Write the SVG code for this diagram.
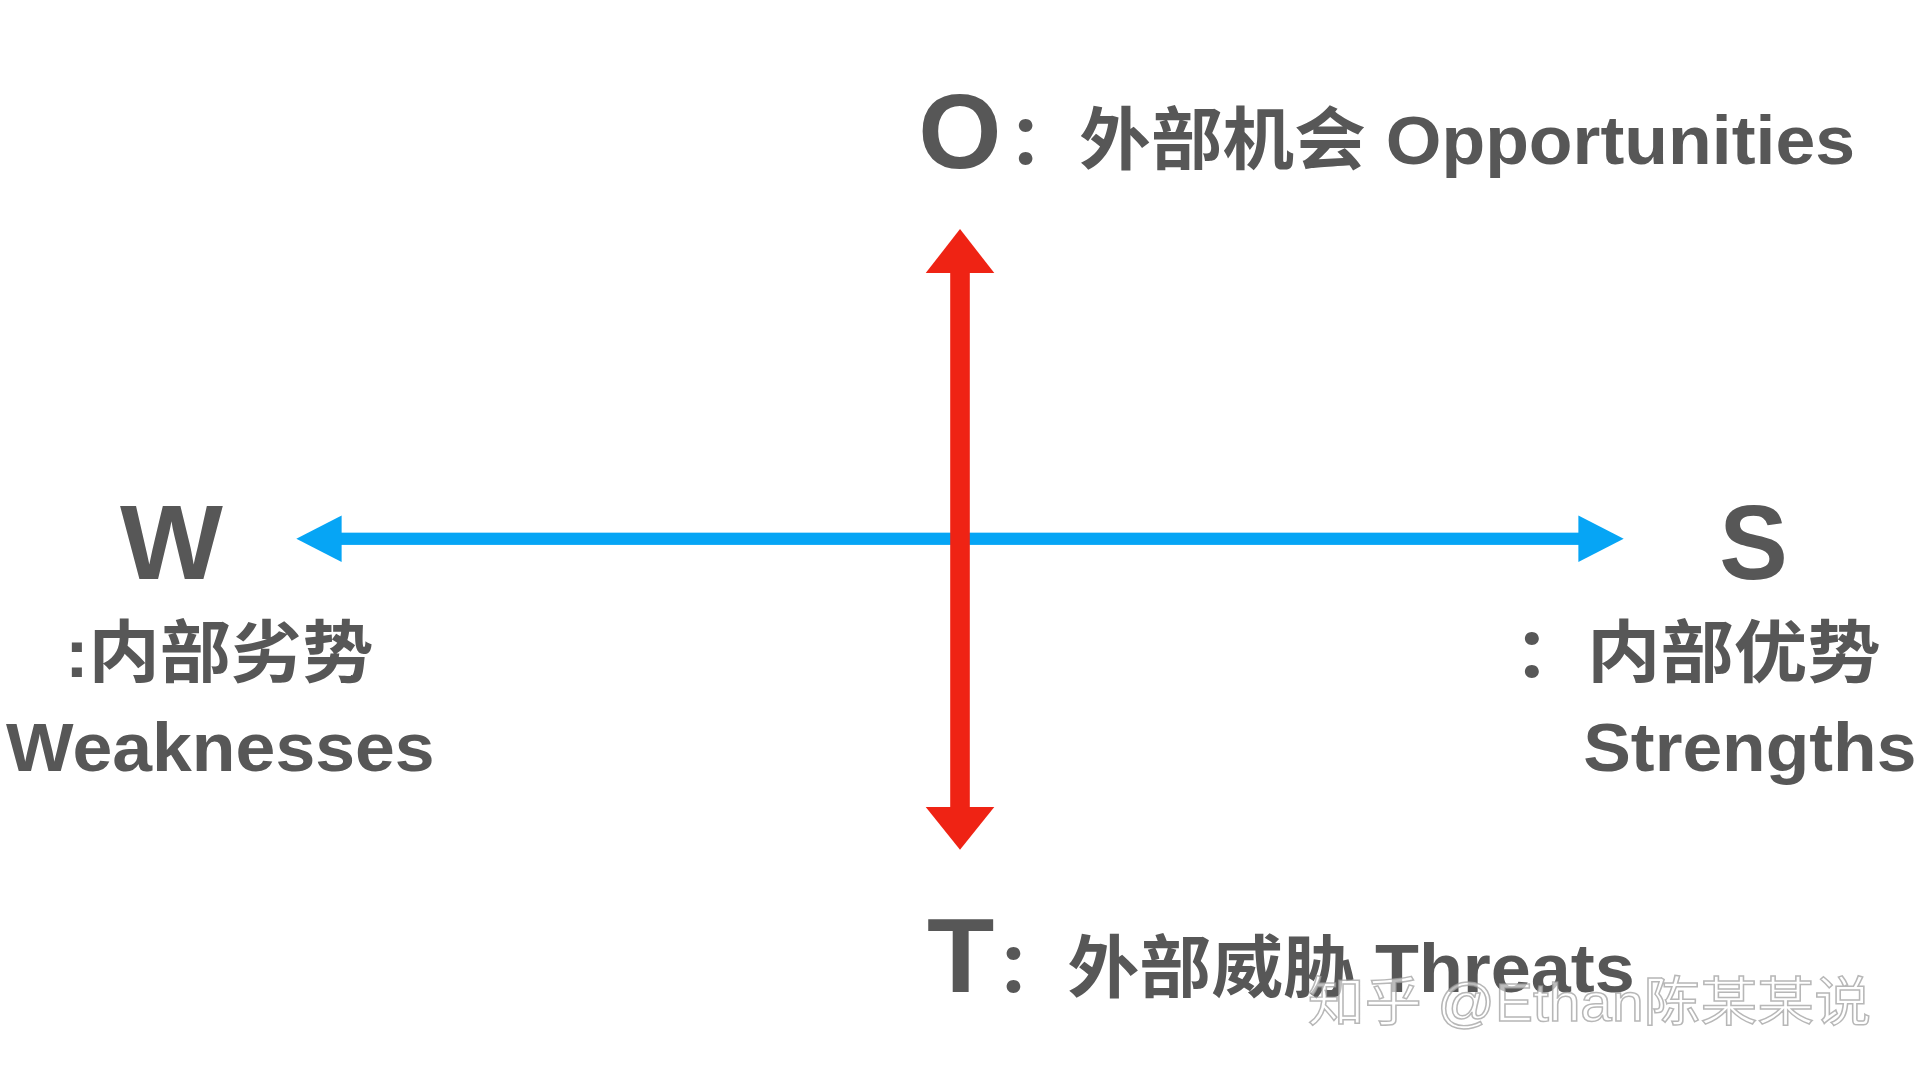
<svg xmlns="http://www.w3.org/2000/svg" width="1920" height="1080" viewBox="0 0 1920 1080">
<style>
text{font-family:"Liberation Sans","Noto Sans CJK SC",sans-serif;font-weight:bold;fill:#575757}
.big{font-size:86px}
.lbl{font-size:56px}
.wm{font-size:44px;font-weight:normal;fill:#ffffff;fill-opacity:0.6;stroke:#999;stroke-width:1.2;stroke-opacity:0.7}
</style>
<rect width="1920" height="1080" fill="#fff"/>
<g transform="scale(1.2245)">
<g id="connectors">
<g id="axis-h">
<rect x="276" y="435" width="1016" height="10" fill="#06a5f5"/>
<polygon points="242,440 279,421 279,459" fill="#06a5f5"/>
<polygon points="1326,440 1289,421 1289,459" fill="#06a5f5"/>
</g>
<g id="axis-v">
<rect x="776" y="220" width="16" height="442" fill="#ef2314"/>
<polygon points="784,187 756,223 812,223" fill="#ef2314"/>
<polygon points="784,694 756,659 812,659" fill="#ef2314"/>
</g>
</g>
<g id="node-o">
<text x="750" y="137" class="big" textLength="68" lengthAdjust="spacingAndGlyphs">O</text>
<text x="823" y="134" class="lbl" textLength="692" lengthAdjust="spacingAndGlyphs">：外部机会 Opportunities</text>
</g>
<g id="node-w">
<text x="98" y="473" class="big" textLength="84" lengthAdjust="spacingAndGlyphs">W</text>
<text x="53" y="553" class="lbl" textLength="252" lengthAdjust="spacingAndGlyphs">:内部劣势</text>
<text x="5" y="630" class="lbl" textLength="350" lengthAdjust="spacingAndGlyphs">Weaknesses</text>
</g>
<g id="node-s">
<text x="1404" y="473" class="big" textLength="56" lengthAdjust="spacingAndGlyphs">S</text>
<text x="1236" y="553" class="lbl" textLength="300" lengthAdjust="spacingAndGlyphs">：内部优势</text>
<text x="1293" y="630" class="lbl" textLength="272" lengthAdjust="spacingAndGlyphs">Strengths</text>
</g>
<g id="node-t">
<text x="757" y="810" class="big" textLength="55" lengthAdjust="spacingAndGlyphs">T</text>
<text x="813" y="810" class="lbl" textLength="522" lengthAdjust="spacingAndGlyphs">：外部威胁 Threats</text>
</g>
<text x="1068" y="834" class="wm" textLength="460" lengthAdjust="spacingAndGlyphs">知乎 @Ethan陈某某说</text>
</g>
</svg>
